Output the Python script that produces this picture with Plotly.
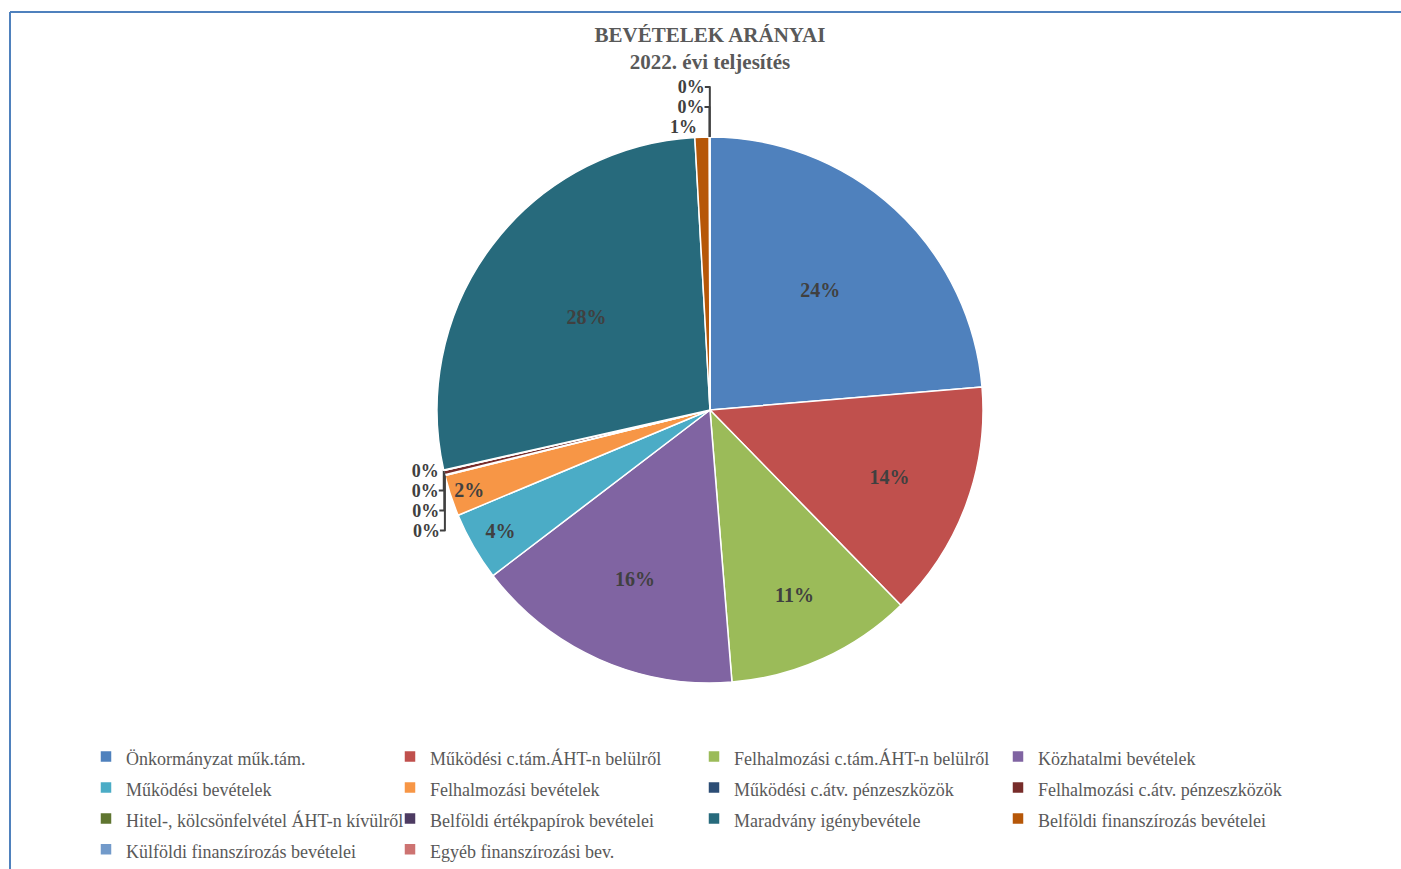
import plotly.graph_objects as go

labels = [
    "Önkormányzat műk.tám.",
    "Működési c.tám.ÁHT-n belülről",
    "Felhalmozási c.tám.ÁHT-n belülről",
    "Közhatalmi bevételek",
    "Működési bevételek",
    "Felhalmozási bevételek",
    "Működési c.átv. pénzeszközök",
    "Felhalmozási c.átv. pénzeszközök",
    "Hitel-, kölcsönfelvétel ÁHT-n kívülről",
    "Belföldi értékpapírok bevételei",
    "Maradvány igénybevétele",
    "Belföldi finanszírozás bevételei",
    "Külföldi finanszírozás bevételei",
    "Egyéb finanszírozási bev.",
]
values = [23.8, 14.1, 11.1, 16.0, 4.1, 2.45, 0.05, 0.25, 0.02, 0.02, 27.8, 0.85, 0.02, 0.02]
colors = ["#4F81BD", "#C0504D", "#9BBB59", "#8064A2", "#4BACC6", "#F79646",
          "#2C4D75", "#772C2A", "#5F7530", "#4D3B62", "#276A7C", "#B65708",
          "#729ACA", "#CD7371"]
title_lines = ["BEVÉTELEK ARÁNYAI", "2022. évi teljesítés"]

W, H = 1401, 869
cx, cy = 710, 410
hw, hh = 300, 273

textpos = ["inside" if v >= 2 else "outside" for v in values]
legend_labels = ['<span style="font-size:18px">' + s + '</span>' for s in labels]

fig = go.Figure(go.Pie(
    labels=legend_labels, values=values, sort=False, direction="clockwise", rotation=0,
    marker=dict(colors=colors, line=dict(color="white", width=1.5)),
    texttemplate="%{percent:.0%}", textposition=textpos,
    insidetextorientation="horizontal",
    textfont=dict(family="Liberation Serif", size=20, color="#404040", weight="bold"),
    outsidetextfont=dict(family="Liberation Serif", size=18, color="#404040", weight="bold"),
    domain=dict(x=[(cx - hw) / W, (cx + hw) / W], y=[1 - (cy + hh) / H, 1 - (cy - hh) / H]),
    hoverinfo="percent",
))

fig.update_layout(
    width=W, height=H, margin=dict(l=0, r=0, t=0, b=0, autoexpand=False),
    paper_bgcolor="white", plot_bgcolor="white",
    title=dict(text="<b>" + title_lines[0] + "</b><br><b>" + title_lines[1] + "</b>",
               x=cx / W, xanchor="center", y=1 - 42 / H, yanchor="top",
               font=dict(family="Liberation Serif", size=21, color="#595959")),
    legend=dict(orientation="h", x=86 / W, xanchor="left", y=1 - 736 / H, yanchor="top",
                entrywidth=259, entrywidthmode="pixels", traceorder="normal",
                font=dict(family="Liberation Serif", size=21.5, color="#595959"),
                itemwidth=30),
    shapes=[
        dict(type="line", xref="paper", yref="paper", x0=10 / W, x1=1.0, y0=1 - 12 / H, y1=1 - 12 / H,
             line=dict(color="#4F81BD", width=2)),
        dict(type="line", xref="paper", yref="paper", x0=10 / W, x1=10 / W, y0=1 - 12 / H, y1=0,
             line=dict(color="#4F81BD", width=2)),
    ],
)

fig.write_html("out.html", config={"displayModeBar": False},
               post_script="document.body.style.margin='0';document.body.style.overflow='hidden';")
